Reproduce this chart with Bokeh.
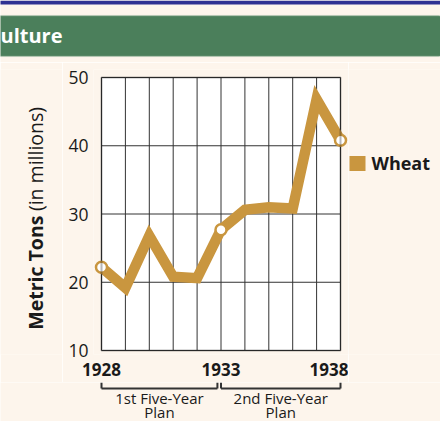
import math
from bokeh.plotting import figure
from bokeh.layouts import column, row
from bokeh.models import Range1d, FixedTicker, Label, BoxAnnotation
from bokeh.embed import file_html
from bokeh.resources import INLINE

# ---- data ----
years = [1928, 1929, 1930, 1931, 1932, 1933, 1934, 1935, 1936, 1937, 1938]
wheat = [22.2, 19.2, 26.8, 20.8, 20.6, 27.7, 30.6, 31.0, 30.8, 46.8, 40.8]
marked_years = [1928, 1933, 1938]
marked_wheat = [22.2, 27.7, 40.8]
x_ticks = [1928, 1933, 1938]
y_ticks = [10, 20, 30, 40, 50]
plans = ["1st Five-Year", "2nd Five-Year"]
plan_spans = [(1928, 1932.85), (1933.0, 1938)]
series_name = "Wheat"
title_text = "ulture"
ylabel_bold = "Metric Tons"
ylabel_plain = "(in millions)"

# ---- style / layout constants ----
GOLD = "#C9963F"
CREAM = "#FDF5EC"
GREEN = "#4B7F5B"
NAVY = "#2E3192"
INK = "#1a1a1a"
FONT = "Open Sans"

W, H = 440, 421
HEAD_H = 62          # header strip height
BOT_Y = 382          # where the bracket strip starts
CH_L, CH_R, CH_T, CH_B = 101, 340, 77, 350   # chart box in page pixels
PAD_L, PAD_R, PAD_T, PAD_B = 8, 8, 8, 4
LEFT_W = 62
RIGHT_X = CH_R + PAD_R
x_px = (CH_R - CH_L) / (years[-1] - years[0])
y_px = (CH_B - CH_T) / (y_ticks[-1] - y_ticks[0])


def helper(width, height, x0, x1, y0, y1):
    f = figure(width=width, height=height, output_backend="svg", toolbar_location=None,
               x_range=Range1d(x0, x1), y_range=Range1d(y1, y0),
               x_axis_type=None, y_axis_type=None, min_border=0)
    f.background_fill_color = CREAM
    f.border_fill_color = CREAM
    f.outline_line_color = None
    return f


# ---- header ----
head = helper(W, HEAD_H, 0, W, 0, HEAD_H)
head.add_layout(BoxAnnotation(left=-10, right=W + 20, top=0, bottom=4,
                              fill_color=NAVY, fill_alpha=1, line_color=None))
head.add_layout(BoxAnnotation(left=-10, right=446, top=15, bottom=56,
                              fill_color=GREEN, fill_alpha=1, line_color="#dfe8dc",
                              line_width=1.5, border_radius=8))
head.add_layout(Label(x=0, y=35, text=title_text, text_font=FONT,
                      text_font_size="20px", text_font_style="bold",
                      text_color="white", text_baseline="middle", text_align="left"))

mid_h = BOT_Y - HEAD_H

# ---- y axis title strip (bold part ends where the plain part begins) ----
ylab = helper(LEFT_W, mid_h, 0, LEFT_W, HEAD_H, BOT_Y)
ylab.add_layout(Label(x=35, y=226, text=ylabel_bold, angle=math.pi / 2, text_font=FONT,
                      text_font_size="19.5px", text_font_style="bold", text_color=INK,
                      text_baseline="middle", text_align="right"))
ylab.add_layout(Label(x=35, y=221, text=ylabel_plain, angle=math.pi / 2, text_font=FONT,
                      text_font_size="19.5px", text_color=INK,
                      text_baseline="middle", text_align="left"))

# ---- main chart ----
main_w = RIGHT_X - LEFT_W
p = figure(width=main_w, height=mid_h, output_backend="svg", toolbar_location=None,
           x_range=Range1d(years[0] - PAD_L / x_px, years[-1] + PAD_R / x_px),
           y_range=Range1d(y_ticks[0] - PAD_B / y_px, y_ticks[-1] + PAD_T / y_px),
           min_border_left=CH_L - PAD_L - LEFT_W, min_border_right=0,
           min_border_top=CH_T - PAD_T - HEAD_H, min_border_bottom=BOT_Y - (CH_B + PAD_B))
p.background_fill_color = CREAM
p.border_fill_color = CREAM
p.outline_line_color = None
p.grid.visible = False

p.add_layout(BoxAnnotation(left=years[0], right=years[-1], bottom=y_ticks[0], top=y_ticks[-1],
                           fill_color="white", fill_alpha=1, line_color=None, level="underlay"))
p.segment(x0=years, y0=[y_ticks[0]] * len(years), x1=years, y1=[y_ticks[-1]] * len(years),
          line_color="#333333", line_width=1)
p.segment(x0=[years[0]] * len(y_ticks), y0=y_ticks, x1=[years[-1]] * len(y_ticks), y1=y_ticks,
          line_color="#333333", line_width=1)
p.add_layout(BoxAnnotation(left=years[0], right=years[-1], bottom=y_ticks[0], top=y_ticks[-1],
                           fill_alpha=0, line_color="#111111", line_width=2))

p.line(years, wheat, line_color=GOLD, line_width=10.5, line_join="miter")
p.scatter(marked_years, marked_wheat, size=11, fill_color="white",
          line_color=GOLD, line_width=2.5)

p.xaxis.ticker = FixedTicker(ticks=x_ticks)
p.yaxis.ticker = FixedTicker(ticks=y_ticks)
for ax in (p.xaxis[0], p.yaxis[0]):
    ax.axis_line_color = None
    ax.major_tick_line_color = None
    ax.minor_tick_line_color = None
    ax.major_tick_out = 0
    ax.major_tick_in = 0
    ax.major_label_text_font = FONT
    ax.major_label_text_color = INK
p.yaxis.major_label_text_font_size = "17.5px"
p.yaxis.major_label_standoff = 5
p.xaxis.major_label_text_font_size = "17px"
p.xaxis.major_label_text_font_style = "bold"
p.xaxis.major_label_standoff = 8

# ---- legend strip ----
leg = helper(W - RIGHT_X, mid_h, RIGHT_X, W, HEAD_H, BOT_Y)
leg.add_layout(BoxAnnotation(left=349, right=365, top=159, bottom=176,
                             fill_color=GOLD, fill_alpha=1, line_color=None))
leg.add_layout(Label(x=371, y=167, text=series_name, text_font=FONT,
                     text_font_size="18px", text_font_style="bold", text_color=INK,
                     text_baseline="middle", text_align="left"))

# ---- plan brackets strip ----
bot = helper(W, H - BOT_Y, years[0] - CH_L / x_px, years[0] + (W - CH_L) / x_px, BOT_Y, H)
yb, yt = 388, 382
bx0, by0, bx1, by1 = [], [], [], []
for a, b in plan_spans:
    bx0 += [a, a, b]
    by0 += [yt, yb, yb]
    bx1 += [a, b, b]
    by1 += [yb, yb, yt]
bot.segment(x0=bx0, y0=by0, x1=bx1, y1=by1, line_color="#333333", line_width=2)
centers = [(a + b) / 2 for a, b in plan_spans]
for cx, name in zip(centers, plans):
    bot.add_layout(Label(x=cx, y=397, text=name, text_font=FONT, text_font_size="15px",
                         text_color=INK, text_baseline="middle", text_align="center"))
    bot.add_layout(Label(x=cx, y=411, text="Plan", text_font=FONT, text_font_size="15px",
                         text_color=INK, text_baseline="middle", text_align="center"))

layout = column(head, row(ylab, p, leg), bot)
open("out.html", "w").write(file_html(layout, INLINE))
